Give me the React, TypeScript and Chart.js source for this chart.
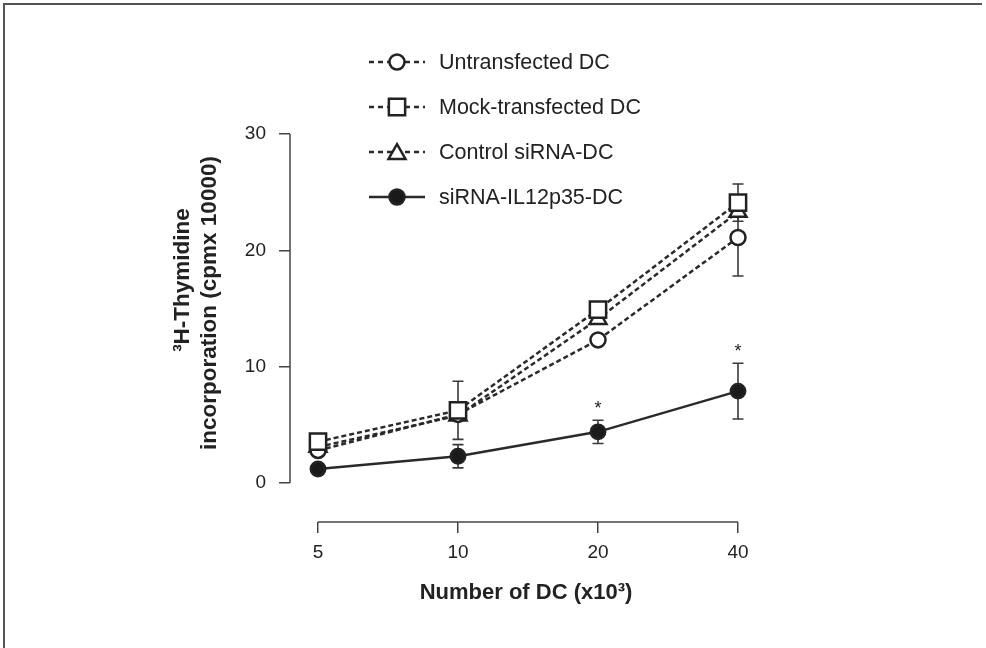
import { useEffect, useRef } from "react";
import { Chart, registerables } from "chart.js";

Chart.register(...registerables);

// Number of dendritic cells per well (x10^3)
const cellCounts = ["5", "10", "20", "40"];

// 3H-thymidine incorporation (cpm x 10000), mean values
const untransfected = [2.8, 5.9, 12.3, 21.1];
const mockTransfected = [3.55, 6.25, 14.9, 24.1];
const controlSiRNA = [3.1, 5.8, 14.1, 23.3];
const siRNAIL12p35 = [1.2, 2.3, 4.4, 7.9];

// standard deviations (0 = no bar drawn)
const untransfectedErr = [0, 0, 0, 3.3];
const mockTransfectedErr = [0, 2.5, 0, 1.6];
const controlSiRNAErr = [0, 0, 0, 0];
const siRNAIL12p35Err = [0, 1.0, 1.0, 2.4];

// significance marks for the siRNA-IL12p35 group
const significant = [false, false, true, true];

const yTicks = [0, 10, 20, 30];

const seriesLabels = [
  "Untransfected DC",
  "Mock-transfected DC",
  "Control siRNA-DC",
  "siRNA-IL12p35-DC",
];

const FONT = "'Liberation Sans', Arial, Helvetica, sans-serif";
const INK = "#222";
const AXIS = "#444";

type Marker = "circle" | "rect" | "triangle" | "dot";

const series = [
  { label: seriesLabels[0], values: untransfected, err: untransfectedErr, marker: "circle" as Marker, dashed: true, radius: 7.5, order: 1 },
  { label: seriesLabels[1], values: mockTransfected, err: mockTransfectedErr, marker: "rect" as Marker, dashed: true, radius: 11.5, order: 0 },
  { label: seriesLabels[2], values: controlSiRNA, err: controlSiRNAErr, marker: "triangle" as Marker, dashed: true, radius: 9.8, order: 2 },
  { label: seriesLabels[3], values: siRNAIL12p35, err: siRNAIL12p35Err, marker: "dot" as Marker, dashed: false, radius: 7.2, order: 3 },
];

function drawMarker(ctx: CanvasRenderingContext2D, kind: Marker, x: number, y: number, r: number) {
  ctx.beginPath();
  if (kind === "circle" || kind === "dot") {
    ctx.arc(x, y, r, 0, Math.PI * 2);
  } else if (kind === "rect") {
    const s = Math.SQRT1_2 * r;
    ctx.rect(x - s, y - s, 2 * s, 2 * s);
  } else {
    let a = 0;
    ctx.moveTo(x + Math.sin(a) * r, y - Math.cos(a) * r);
    a += (2 * Math.PI) / 3;
    ctx.lineTo(x + Math.sin(a) * r, y - Math.cos(a) * r);
    a += (2 * Math.PI) / 3;
    ctx.lineTo(x + Math.sin(a) * r, y - Math.cos(a) * r);
    ctx.closePath();
  }
  ctx.fillStyle = kind === "dot" ? "#1a1a1a" : "#fff";
  ctx.fill();
  ctx.lineWidth = 2.5;
  ctx.strokeStyle = INK;
  ctx.stroke();
}

const decorations = {
  id: "decorations",
  beforeDatasetsDraw(chart: any) {
    const { ctx, scales } = chart;
    const x = scales.x;
    const y = scales.y;
    ctx.save();
    ctx.strokeStyle = "#3a3a3a";
    ctx.lineWidth = 1.6;
    series.forEach((s) => {
      s.values.forEach((v, i) => {
        const e = s.err[i];
        if (!e) return;
        const px = x.getPixelForValue(i);
        const top = y.getPixelForValue(v + e);
        const bot = y.getPixelForValue(v - e);
        ctx.beginPath();
        ctx.moveTo(px, top);
        ctx.lineTo(px, bot);
        ctx.moveTo(px - 5.5, top);
        ctx.lineTo(px + 5.5, top);
        ctx.moveTo(px - 5.5, bot);
        ctx.lineTo(px + 5.5, bot);
        ctx.stroke();
      });
    });
    ctx.restore();
  },
  afterDraw(chart: any) {
    const { ctx, scales } = chart;
    const x = scales.x;
    const y = scales.y;
    ctx.save();

    // figure frame
    ctx.strokeStyle = "#555";
    ctx.lineWidth = 2;
    ctx.beginPath();
    ctx.moveTo(4, 648);
    ctx.lineTo(4, 4);
    ctx.lineTo(982, 4);
    ctx.stroke();

    // axis lines, spanning only the data range
    ctx.strokeStyle = AXIS;
    ctx.lineWidth = 1.5;
    const yLeft = chart.chartArea.left;
    ctx.beginPath();
    ctx.moveTo(yLeft, y.getPixelForValue(yTicks[0]));
    ctx.lineTo(yLeft, y.getPixelForValue(yTicks[yTicks.length - 1]));
    ctx.stroke();
    const xBase = chart.chartArea.bottom;
    ctx.beginPath();
    ctx.moveTo(x.getPixelForValue(0), xBase);
    ctx.lineTo(x.getPixelForValue(cellCounts.length - 1), xBase);
    ctx.stroke();

    // significance asterisks
    ctx.fillStyle = INK;
    ctx.font = `18px ${FONT}`;
    ctx.textAlign = "center";
    ctx.textBaseline = "alphabetic";
    significant.forEach((flag, i) => {
      if (!flag) return;
      const top = y.getPixelForValue(siRNAIL12p35[i] + siRNAIL12p35Err[i]);
      ctx.fillText("*", x.getPixelForValue(i), top - 6);
    });

    // legend
    const rows = [62, 107, 152, 197];
    series.forEach((s, i) => {
      const ry = rows[i];
      ctx.strokeStyle = "#2a2a2a";
      ctx.lineWidth = 2.4;
      ctx.setLineDash(s.dashed ? [5, 4] : []);
      ctx.beginPath();
      ctx.moveTo(369, ry);
      ctx.lineTo(425, ry);
      ctx.stroke();
      ctx.setLineDash([]);
      const r = s.marker === "rect" ? 11.5 : s.marker === "triangle" ? 9.8 : 7.5;
      drawMarker(ctx, s.marker, 397, s.marker === "triangle" ? ry + 2 : ry, r);
      ctx.fillStyle = INK;
      ctx.font = `21.5px ${FONT}`;
      ctx.textAlign = "left";
      ctx.textBaseline = "middle";
      ctx.fillText(s.label, 439, ry + 1);
    });

    // axis titles
    ctx.fillStyle = INK;
    ctx.font = `bold 22px ${FONT}`;
    ctx.textAlign = "center";
    ctx.textBaseline = "middle";
    ctx.fillText("Number of DC (x10\u00B3)", 526, 593);

    ctx.font = `bold 22.5px ${FONT}`;
    ctx.save();
    ctx.translate(183, 280);
    ctx.rotate(-Math.PI / 2);
    ctx.fillText("\u00B3H-Thymidine", 0, 0);
    ctx.restore();
    ctx.save();
    ctx.translate(210, 303);
    ctx.rotate(-Math.PI / 2);
    ctx.fillText("incorporation (cpmx 10000)", 0, 0);
    ctx.restore();

    ctx.restore();
  },
};

export default function App() {
  const canvasRef = useRef<HTMLCanvasElement | null>(null);

  useEffect(() => {
    const canvas = canvasRef.current;
    if (!canvas) return;
    Chart.defaults.font.family = FONT;

    const datasets = series.map((s) => ({
      label: s.label,
      data: s.values.map((v, i) => ({ x: i, y: v })),
      borderColor: "#2a2a2a",
      borderWidth: 2.5,
      borderDash: s.dashed ? [5, 3] : [],
      pointStyle: s.marker === "dot" ? "circle" : s.marker,
      pointRadius: s.radius,
      pointBackgroundColor: s.marker === "dot" ? "#1a1a1a" : "#ffffff",
      pointBorderColor: INK,
      pointBorderWidth: 2.5,
      tension: 0,
      order: s.order,
      clip: false as any,
    }));

    const chart = new Chart(canvas, {
      type: "line",
      data: { datasets },
      options: {
        responsive: false,
        devicePixelRatio: 1,
        animation: false,
        layout: { padding: { left: 230, right: 248, top: 134, bottom: 66 } },
        plugins: { legend: { display: false }, tooltip: { enabled: false } },
        scales: {
          x: {
            type: "linear",
            min: -0.2,
            max: cellCounts.length - 1,
            afterBuildTicks: (scale: any) => {
              scale.ticks = cellCounts.map((_, i) => ({ value: i }));
            },
            afterFit: (scale: any) => {
              scale.height = 60;
            },
            border: { display: false },
            grid: {
              display: true,
              drawOnChartArea: false,
              drawTicks: true,
              tickLength: 11,
              color: AXIS,
              lineWidth: 1.5,
            },
            ticks: {
              autoSkip: false,
              maxRotation: 0,
              padding: 8,
              color: INK,
              font: { size: 19, family: FONT },
              callback: (v: any) => cellCounts[Number(v)] ?? "",
            },
          },
          y: {
            type: "linear",
            min: -3.35,
            max: 30,
            afterBuildTicks: (scale: any) => {
              scale.ticks = yTicks.map((v) => ({ value: v }));
            },
            afterFit: (scale: any) => {
              scale.width = 60;
            },
            border: { display: false },
            grid: {
              display: true,
              drawOnChartArea: false,
              drawTicks: true,
              tickLength: 11,
              color: AXIS,
              lineWidth: 1.5,
            },
            ticks: {
              padding: 13,
              color: INK,
              font: { size: 19, family: FONT },
              callback: (v: any) => String(v),
            },
          },
        },
      },
      plugins: [decorations],
    });

    return () => chart.destroy();
  }, []);

  return (
    <div
      style={{
        position: "absolute",
        left: 0,
        top: 0,
        width: 986,
        height: 648,
        background: "#fff",
      }}
    >
      <canvas ref={canvasRef} width={986} height={648} style={{ display: "block" }} />
    </div>
  );
}
